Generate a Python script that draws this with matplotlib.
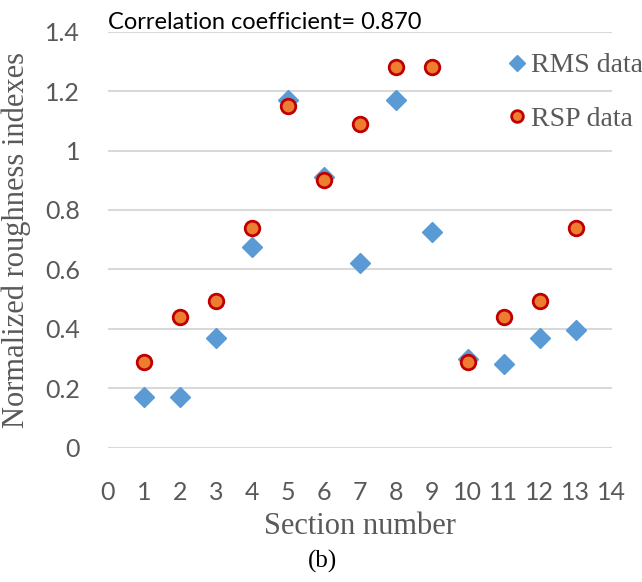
import numpy as np
import matplotlib
matplotlib.use("Agg")
import matplotlib.pyplot as plt

# ---------------- data ----------------
sections = [1, 2, 3, 4, 5, 6, 7, 8, 9, 10, 11, 12, 13]
rms_data = [0.17, 0.17, 0.37, 0.675, 1.17, 0.91, 0.62, 1.17, 0.725, 0.30, 0.28, 0.37, 0.395]
rsp_data = [0.29, 0.44, 0.495, 0.74, 1.15, 0.90, 1.09, 1.28, 1.28, 0.29, 0.44, 0.495, 0.74]
x_ticks = list(range(0, 15))
y_ticks = [0, 0.2, 0.4, 0.6, 0.8, 1.0, 1.2, 1.4]
y_tick_labels = ["0", "0.2", "0.4", "0.6", "0.8", "1", "1.2", "1.4"]

gray = "#595959"
sans = ["Lato", "DejaVu Sans"]
serif = ["Liberation Serif", "DejaVu Serif"]

fig = plt.figure(figsize=(6.42, 5.82), dpi=100)
ax = fig.add_axes([0.168, 0.2308, 0.785, 0.7147])

ax.plot(sections, rms_data, linestyle="none", marker="D", markersize=10,
        color="#5B9BD5", markeredgecolor="#5B9BD5", label="RMS data", zorder=3)
ax.plot(sections, rsp_data, linestyle="none", marker="o", markersize=10.5,
        markerfacecolor="#ED7D31", markeredgecolor="#C00000", markeredgewidth=2,
        label="RSP data", zorder=4)

ax.set_xlim(0, 14)
ax.set_ylim(0, 1.4)
ax.set_xticks(x_ticks)
ax.set_yticks(y_ticks)
ax.set_yticklabels(y_tick_labels)
for lab in ax.get_xticklabels() + ax.get_yticklabels():
    lab.set_family(sans)
    lab.set_fontsize(18)
    lab.set_color(gray)
ax.tick_params(axis="y", length=0, pad=20)
ax.tick_params(axis="x", length=0, pad=24)

ax.yaxis.grid(True, color="#D9D9D9", linewidth=1.5)
ax.set_axisbelow(True)
for s in ax.spines.values():
    s.set_visible(False)

ax.set_ylabel("Normalized roughness indexes", family=serif, fontsize=22,
              color=gray, labelpad=10)
ax.set_xlabel("Section number", family=serif, fontsize=22, color=gray, labelpad=6)

fig.text(0.168, 0.962, "Correlation coefficient= 0.870", family=sans,
         fontsize=17, color="black", va="center", ha="left")
fig.text(0.503, 0.036, "(b)", family=serif, fontsize=18, color="black",
         ha="center", va="center")

leg = ax.legend(loc="upper left", bbox_to_anchor=(0.794, 0.909),
                bbox_transform=fig.transFigure, frameon=False,
                markerscale=0.8, handlelength=0.5, handletextpad=0.25,
                labelspacing=1.0, borderaxespad=0, borderpad=0,
                prop={"family": serif, "size": 20})
for t in leg.get_texts():
    t.set_color(gray)

fig.savefig("out.png", dpi=100)
